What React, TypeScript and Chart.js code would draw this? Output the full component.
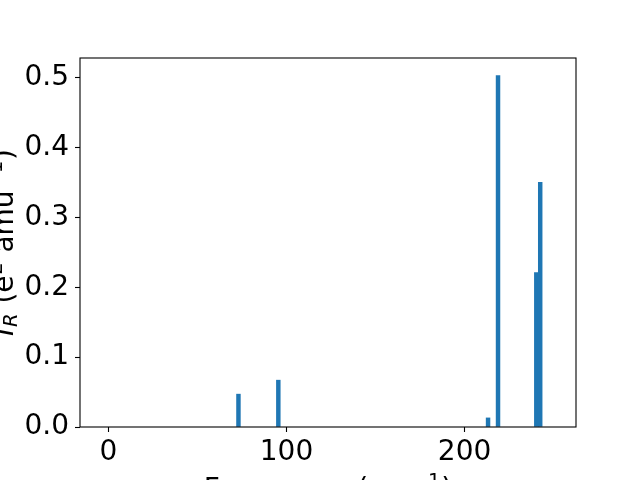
import React, { useEffect, useRef } from "react";
import { Chart, registerables } from "chart.js";

Chart.register(...registerables);

const frequencies = [73.0, 95.4, 213.2, 218.8, 240.3, 242.5];
const intensities = [0.047, 0.067, 0.013, 0.503, 0.221, 0.35];
const xTicks = [0, 100, 200];
const yTicks = [0, 0.1, 0.2, 0.3, 0.4, 0.5];
const xLimits = [-16, 262.6];
const yLimits = [0, 0.528];

const FONT = "'DejaVu Sans', sans-serif";
const FS = 28;

type Part = { t: string; italic?: boolean; sub?: boolean; sup?: boolean };

const yTitle: Part[] = [
  { t: "I", italic: true },
  { t: "R", italic: true, sub: true },
  { t: " (e" },
  { t: "2", sup: true },
  { t: " amu" },
  { t: "\u22121", sup: true },
  { t: ")" },
];
const xTitle: Part[] = [
  { t: "Frequency (cm" },
  { t: "\u22121", sup: true },
  { t: ")" },
];

function partFont(p: Part) {
  const size = p.sub || p.sup ? FS * 0.7 : FS;
  return `${p.italic ? "italic " : ""}${size}px ${FONT}`;
}

function drawRich(ctx: CanvasRenderingContext2D, parts: Part[], cx: number, by: number) {
  let total = 0;
  const gap = (p: Part) => (p.sup || p.sub ? 1.5 : 0);
  const widths = parts.map((p) => {
    ctx.font = partFont(p);
    const w = ctx.measureText(p.t).width + gap(p);
    total += w;
    return w;
  });
  let x = cx - total / 2;
  ctx.textBaseline = "alphabetic";
  ctx.textAlign = "left";
  parts.forEach((p, i) => {
    ctx.font = partFont(p);
    let dy = 0;
    if (p.sub) dy = FS * 0.15;
    if (p.sup) dy = -FS * 0.4;
    ctx.fillText(p.t, x + gap(p) / 2, by + dy);
    x += widths[i];
  });
}

const framePlugin = {
  id: "frameAndTitles",
  afterDraw(chart: any) {
    const ctx = chart.ctx as CanvasRenderingContext2D;
    const { left, top, right, bottom } = chart.chartArea;
    ctx.save();
    ctx.strokeStyle = "#000";
    ctx.lineWidth = 1.1;
    ctx.strokeRect(left, top, right - left, bottom - top);
    ctx.fillStyle = "#000";
    drawRich(ctx, xTitle, (left + right) / 2, bottom + 71);
    ctx.translate(13, (top + bottom) / 2);
    ctx.rotate(-Math.PI / 2);
    drawRich(ctx, yTitle, 0, 0);
    ctx.restore();
  },
};

export default function App() {
  const ref = useRef<HTMLCanvasElement | null>(null);
  useEffect(() => {
    document.body.style.margin = "0";
    const chart = new Chart(ref.current as HTMLCanvasElement, {
      type: "bar",
      data: {
        datasets: [
          {
            data: frequencies.map((f, i) => ({ x: f, y: intensities[i] })),
            backgroundColor: "#1f77b4",
            borderWidth: 0,
            barThickness: 3.8,
          },
        ],
      },
      options: {
        animation: false,
        responsive: false,
        layout: { padding: { top: 58, right: 64, left: 0, bottom: 0 } },
        plugins: { legend: { display: false }, tooltip: { enabled: false } },
        scales: {
          x: {
            type: "linear",
            min: xLimits[0],
            max: xLimits[1],
            offset: false,
            afterFit: (s: any) => {
              s.height = 53;
            },
            afterBuildTicks: (s: any) => {
              s.ticks = xTicks.map((v) => ({ value: v }));
            },
            grid: { offset: false, drawOnChartArea: false, drawTicks: true, tickLength: 5, color: "#000", tickWidth: 1.1 },
            border: { display: false },
            ticks: { font: { family: FONT, size: FS }, color: "#000", padding: 4, maxRotation: 0 },
          },
          y: {
            min: yLimits[0],
            max: yLimits[1],
            afterFit: (s: any) => {
              s.width = 80;
            },
            afterBuildTicks: (s: any) => {
              s.ticks = yTicks.map((v) => ({ value: v }));
            },
            grid: { drawOnChartArea: false, drawTicks: true, tickLength: 5, color: "#000", tickWidth: 1.1 },
            border: { display: false },
            ticks: {
              font: { family: FONT, size: FS },
              color: "#000",
              padding: 6,
              callback: (v: any) => Number(v).toFixed(1),
            },
          },
        },
      },
      plugins: [framePlugin],
    });
    return () => chart.destroy();
  }, []);
  return (
    <div style={{ position: "fixed", left: 0, top: 0, width: 640, height: 480, background: "#fff" }}>
      <canvas ref={ref} width={640} height={480} />
    </div>
  );
}
